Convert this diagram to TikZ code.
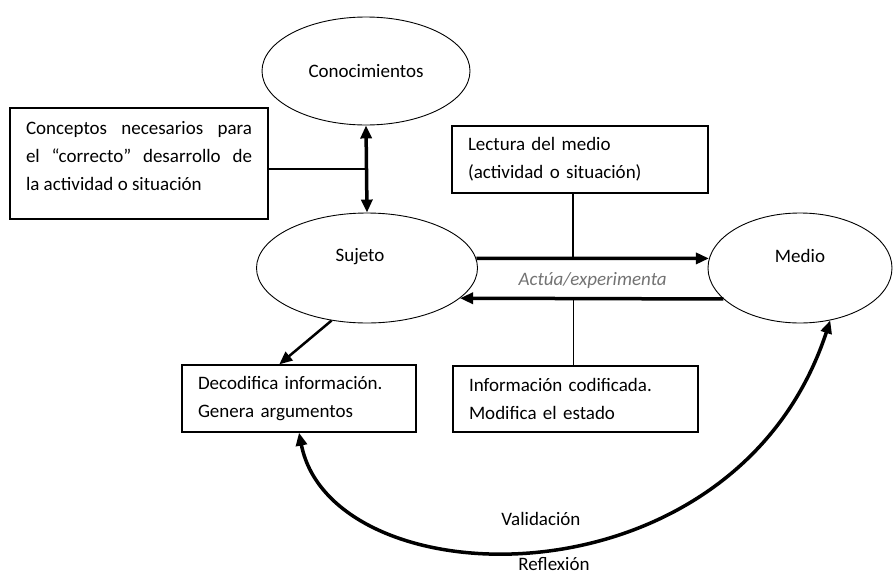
\documentclass[tikz,border=0pt]{standalone}
\usepackage{fontspec}
\setmainfont{Carlito}
\usetikzlibrary{shapes.geometric,arrows.meta,calc}
\begin{document}
\begin{tikzpicture}[x=1pt,y=-1pt,
  font=\fontsize{19}{28}\selectfont,
  >={Triangle[length=13pt,width=11pt]},
  elipse/.style={draw,ellipse,line width=0.9pt,inner sep=0pt},
  caja/.style={draw,rectangle,line width=1.3pt,inner xsep=16pt,inner ysep=6pt,align=left},
  flecha/.style={->,line width=3.5pt},
  linea/.style={line width=1.2pt}]
\useasboundingbox (0,0) rectangle (895,576);

% elipses
\node[elipse,minimum width=208,minimum height=108] (conoc) at (366,71) {Conocimientos};
\node[elipse,minimum width=221,minimum height=110,
  label={[xshift=-7pt,yshift=11pt]center:Sujeto}] (sujeto) at (367,268) {};
\node[elipse,minimum width=184,minimum height=110,
  label={[yshift=12pt]center:Medio}] (medio) at (800,268) {};

% cajas
\node[caja,align=justify,text width=226,minimum height=111] (concep) at (139,163.5)
  {Conceptos necesarios para\linebreak el “correcto” desarrollo de\linebreak la actividad o situación\par\vspace{-12pt}\null};
\node[caja,text width=224,minimum height=67] (lectura) at (580,159.5)
  {Lectura del medio\\(actividad o situación)};
\node[caja,text width=202,minimum height=67] (decod) at (299,398.5)
  {Decodifica información.\\Genera argumentos};
\node[caja,text width=213,minimum height=66] (info) at (575.5,399)
  {Información codificada.\\Modifica el estado};

% conectores
\draw[flecha,<->] (conoc.south) -- coordinate (m1) (sujeto.north);
\draw[linea] (concep.east |- m1) -- (m1);
\draw[flecha] (sujeto.5) -- node[midway,below=12pt,inner sep=0pt,text=black!55,
  font=\fontsize{19}{28}\selectfont\itshape] (actua) {Actúa/experimenta} (medio.174);
\draw[flecha] (medio.202) -- (sujeto.342);
\draw[linea] ([xshift=-7pt]lectura.south) -- ([xshift=-7pt]lectura.south |- sujeto.5);
\draw[linea] ([xshift=-2pt]info.north) -- ([xshift=-2pt]info.north |- sujeto.342);
\draw[flecha,line width=2.5pt] (sujeto.236) -- (decod.120);
\draw[flecha,<->] (decod.south) .. controls +(33,168) and +(-96,292) .. (medio.300)
  node[pos=.5,above=22pt,inner sep=0pt] (valid) {Validación}
  node[pos=.5,below=7pt,xshift=13pt,inner sep=0pt] (reflex) {Reflexión};
\end{tikzpicture}
\end{document}
